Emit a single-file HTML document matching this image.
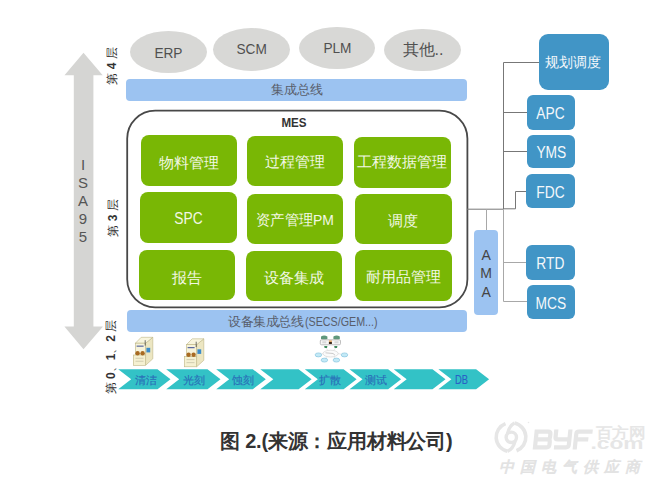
<!DOCTYPE html>
<html><head><meta charset="utf-8">
<style>
html,body{margin:0;padding:0;background:#fff;}
body{width:655px;height:483px;overflow:hidden;position:relative;font-family:"Liberation Sans",sans-serif;}
.a{position:absolute;}
.ell{position:absolute;background:#d8d8d6;border-radius:50%;color:#505050;font-size:14.5px;display:flex;align-items:center;justify-content:center;}
.g{position:absolute;background:#79b705;border-radius:8px;color:#f2f7e4;font-size:14.7px;display:flex;align-items:center;justify-content:center;}
.b{position:absolute;background:#4195c6;border-radius:6px;color:#f4f8fb;font-size:16px;display:flex;align-items:center;justify-content:center;}
.bar{position:absolute;background:#9cc3f1;border-radius:4px;color:#555;font-size:13px;display:flex;align-items:center;justify-content:center;}
.rot{position:absolute;transform:rotate(-90deg);transform-origin:center center;white-space:nowrap;color:#333;font-size:12px;line-height:12px;text-align:center;}
.chev{position:absolute;color:#2a6db8;font-family:"Liberation Serif",serif;font-size:11px;line-height:11px;font-weight:normal;-webkit-text-stroke:0.15px #2a6db8;}
.g span,.b span{position:relative;}
.b span{display:inline-block;transform:scaleX(0.86);}
</style></head><body>

<svg class="a" style="left:0;top:0" width="655" height="483">
  <!-- double arrow -->
  <polygon points="83.5,52.7 102.7,75.2 93.4,75.2 93.4,326.5 103,326.5 83.5,349.2 64.4,326.5 73.8,326.5 73.8,75.2 64.5,75.2" fill="#d5d5d3"/>
  <!-- MES container -->
  <rect x="127.2" y="110.6" width="340.2" height="196.7" rx="28" ry="28" fill="#fff" stroke="#484848" stroke-width="1.8"/>
  <!-- connectors -->
  <g stroke="#777" stroke-width="1" fill="none">
    <path d="M503.5 62.5 V209.2"/>
    <path d="M503.5 62.5 H539"/>
    <path d="M503.5 112.5 H527"/>
    <path d="M503.5 151.5 H527"/>
    <path d="M526 191.5 H515.5 V208.8 H503.5"/>
    <path d="M467 209.2 H503.5"/>
  </g>
  <g stroke="#a8a8a8" stroke-width="1" fill="none">
    <path d="M486.5 209.2 V230"/>
    <path d="M503.5 209.2 V301.5"/>
    <path d="M503.5 262.5 H526"/>
    <path d="M503.5 301.5 H527"/>
  </g>
  <!-- chevrons -->
  <g fill="#33c2c6">
    <polygon points="118.2,369.2 157.5,369.2 170.5,379.2 157.5,389.2 118.2,389.2 131.2,379.2"/>
    <polygon points="166.2,369.2 207.5,369.2 220.5,379.2 207.5,389.2 166.2,389.2 179.2,379.2"/>
    <polygon points="216.2,369.2 252.8,369.2 265.8,379.2 252.8,389.2 216.2,389.2 229.2,379.2"/>
    <polygon points="260.3,369.2 298.6,369.2 311.6,379.2 298.6,389.2 260.3,389.2 273.3,379.2"/>
    <polygon points="304.8,369.2 343.6,369.2 356.6,379.2 343.6,389.2 304.8,389.2 317.8,379.2"/>
    <polygon points="349.5,369.2 388.1,369.2 401.1,379.2 388.1,389.2 349.5,389.2 362.5,379.2"/>
    <polygon points="393.7,369.2 432.5,369.2 445.5,379.2 432.5,389.2 393.7,389.2 406.7,379.2"/>
    <polygon points="438.4,369.2 476.1,369.2 489.1,379.2 476.1,389.2 438.4,389.2 451.4,379.2"/>
  </g>

  <!-- equipment icons -->
  <defs>
    <g id="eq">
      <polygon points="11.6,6.2 18.8,0.3 18.8,21.8 11.6,28.3" fill="#ece6c2" stroke="#bdb584" stroke-width="0.6"/>
      <polygon points="1.4,6.2 11.6,6.2 18.8,0.3 7.2,0.3" fill="#f8f5de" stroke="#bdb584" stroke-width="0.6"/>
      <rect x="1.4" y="6.2" width="10.2" height="12" fill="#f7f3da" stroke="#bdb584" stroke-width="0.6"/>
      <rect x="-0.6" y="18" width="12.2" height="10.3" fill="#f5f1d2" stroke="#bdb584" stroke-width="0.6"/>
      <line x1="11.2" y1="3.2" x2="11.2" y2="8.6" stroke="#333" stroke-width="0.7"/>
      <rect x="2.6" y="8.6" width="7" height="1.1" fill="#4a5a9a"/>
      <circle cx="3.6" cy="16.2" r="2.2" fill="#a86a22"/>
      <circle cx="8.6" cy="16.2" r="2.2" fill="#a86a22"/>
      <rect x="12.4" y="10.8" width="3.8" height="4.6" fill="#3b8bc9"/>
      <rect x="1.5" y="20.8" width="8" height="0.8" fill="#c8c4a8"/>
      <rect x="1.5" y="23.8" width="8" height="0.8" fill="#c8c4a8"/>
    </g>
  </defs>
  <use href="#eq" x="134" y="337"/>
  <use href="#eq" x="185" y="338.5"/>
  <!-- network icon -->
  <g>
    <path d="M321 339 V336.5 Q324.2 334.6 327.4 336.5 V339 Q324.2 340.2 321 339Z" fill="#5f977c"/>
    <path d="M333.4 339 V336.5 Q336.6 334.6 339.8 336.5 V339 Q336.6 340.2 333.4 339Z" fill="#5f977c"/>
    <rect x="320.3" y="339.8" width="20.2" height="5" rx="1.2" fill="#f6f6f6" stroke="#a5a5a5" stroke-width="0.7"/>
    <rect x="322.3" y="341.3" width="4" height="2" fill="#d8d8d8"/>
    <rect x="334.5" y="341.3" width="4" height="2" fill="#d8d8d8"/>
    <rect x="328.9" y="340.4" width="3" height="1.6" fill="#e2a868"/>
    <rect x="328.9" y="342" width="3" height="2" fill="#3a2a1a"/>
    <path d="M324.2 346 h3.2 l-0.4 2 h-2.4z M334.2 346 h3.2 l-0.4 2 h-2.4z" fill="#3f8a5e"/>
    <ellipse cx="330.6" cy="353.6" rx="7.6" ry="3.4" fill="#fbfbfb" stroke="#cfcfcf" stroke-width="0.6"/>
    <path d="M325.5 352.8 L333 353.5 L335 355.2" stroke="#aaa" stroke-width="0.6" fill="none"/>
    <path d="M318.5 354.9 L323 353.6 M344.5 354.9 L338.2 353.6 M324.4 360 L327 356.5 M336.4 360 L334 356.5 M326 348 L328 350.5 M335.6 348 L333.5 350.5" stroke="#d0d0d0" stroke-width="0.5"/>
    <g fill="#c3e9f6" stroke="#7dbfdc" stroke-width="0.6">
      <ellipse cx="318.4" cy="354.9" rx="3.3" ry="2"/>
      <ellipse cx="344.5" cy="354.9" rx="3.3" ry="2"/>
      <ellipse cx="324.4" cy="360.1" rx="3.3" ry="2"/>
      <ellipse cx="336.4" cy="360.1" rx="3.3" ry="2"/>
    </g>
  </g>
  <!-- watermark -->
  <g fill="none" stroke="#e6e6e6" stroke-linecap="butt">
    <path d="M505.5 423.6 A14.5 14.5 0 0 0 507.5 451.3" stroke-width="3.6"/>
    <path d="M516.5 450.8 A14.5 14.5 0 0 0 514.5 423.1" stroke-width="3.6"/>
    <circle cx="511.3" cy="437.3" r="5.2" stroke-width="3.4"/>
    <path d="M507.5 433.5 C508.5 429 511 425 514.5 423.1" stroke-width="3.4"/>
    <path d="M515.1 441.1 C514 445.6 511.5 449.5 507.5 451.3" stroke-width="3.4"/>
    <circle cx="528.5" cy="422.5" r="0.8" fill="#eaeaea" stroke="none"/>
    <g stroke-width="4.2" transform="translate(0,0) skewX(-6) translate(46,0)">
      <path d="M536 431.7 H547.5 Q550 431.7 550 434.2 V437 Q550 439.4 547.5 439.4 H536 M536 439.4 H547.8 Q550.2 439.4 550.2 441.8 V444.8 Q550.2 447.3 547.8 447.3 H536 M536 429.6 V449.4"/>
      <path d="M555.5 429.6 V436.9 Q555.5 439.4 558 439.4 H569.6 M569.6 429.6 V444.8 Q569.6 447.3 567.1 447.3 H555"/>
      <path d="M592 431.7 H578 Q575.9 431.7 575.9 433.8 V449.4 M575.9 439.4 H588.5"/>
    </g>
  </g>
  <g>
    <text x="595.5" y="437.8" font-family="Liberation Sans" font-weight="bold" font-size="14.5" textLength="50" lengthAdjust="spacingAndGlyphs" fill="#e6e6e6">百方网</text>
    <text x="590.5" y="449.4" font-family="Liberation Sans" font-size="16" font-weight="bold" textLength="53" lengthAdjust="spacingAndGlyphs" fill="#e6e6e6">.com</text>
    <text x="499" y="471.5" font-family="Liberation Serif" font-style="italic" font-size="15" textLength="141" lengthAdjust="spacing" fill="#e2e2e2" stroke="#e2e2e2" stroke-width="0.7">中国电气供应商</text>
  </g>
</svg>

<!-- ISA95 -->
<div class="a" style="left:76px;top:156px;width:14px;color:#555;font-size:15px;line-height:18.1px;text-align:center;">I<br>S<br>A<br>9<br>5</div>

<!-- rotated labels -->
<div class="rot" style="left:91.8px;top:60px;width:40px;">第 <b>4</b> 层</div>
<div class="rot" style="left:92.5px;top:212px;width:40px;">第 <b>3</b> 层</div>
<div class="rot" style="left:71.3px;top:351px;width:80px;">第 <b>0</b>、<b>1</b>、<b>2</b> 层</div>

<!-- ellipses -->
<div class="ell" style="left:130.4px;top:31px;width:77px;height:42px;"><span style="display:inline-block;transform:scaleX(0.91);font-size:15px;position:relative;top:0.3px">ERP</span></div>
<div class="ell" style="left:213.4px;top:27.7px;width:76.4px;height:43px;"><span style="display:inline-block;transform:scaleX(0.91);font-size:15px;position:relative;top:-0.5px">SCM</span></div>
<div class="ell" style="left:299px;top:26.6px;width:76.3px;height:42.8px;"><span style="display:inline-block;transform:scaleX(0.91);font-size:15px;position:relative;top:-0.5px">PLM</span></div>
<div class="ell" style="left:383.8px;top:28.7px;width:77px;height:42.8px;font-size:16px;"><span style="position:relative;left:0.7px;top:0.3px">其他..</span></div>

<!-- bars -->
<div class="bar" style="left:126.4px;top:79px;width:340.6px;height:22px;"></div>
<div class="a" style="left:270.5px;top:83px;font-family:'Liberation Serif',serif;font-size:12.6px;line-height:14px;color:#585d6a;white-space:nowrap;">集成总线</div>
<div class="bar" style="left:126.8px;top:310.4px;width:340.6px;height:21.2px;"></div>
<div class="a" style="left:228px;top:315px;font-size:13px;line-height:14px;color:#585d6a;white-space:nowrap;letter-spacing:-0.4px;">设备集成总线</div>
<div class="a" style="left:305px;top:315px;font-size:12.6px;line-height:14px;color:#585d6a;white-space:nowrap;transform:scaleX(0.85);transform-origin:left center;">(SECS/GEM...)</div>

<!-- MES label -->
<div class="a" style="left:270px;top:114.5px;width:48px;text-align:center;font-weight:bold;font-size:13.2px;color:#333;transform:scaleX(0.88);">MES</div>

<!-- green boxes -->
<div class="g" style="left:141px;top:135px;width:96px;height:50.5px;"><span style="top:3.2px">物料管理</span></div>
<div class="g" style="left:247px;top:136px;width:96px;height:50.2px;"><span style="top:1.7px">过程管理</span></div>
<div class="g" style="left:354px;top:137px;width:96.6px;height:50.5px;"><span style="top:0.5px">工程数据管理</span></div>
<div class="g" style="left:140.4px;top:192px;width:96.6px;height:50.5px;font-size:16px;"><span style="top:1.8px;display:inline-block;transform:scaleX(0.86)">SPC</span></div>
<div class="g" style="left:247px;top:194.3px;width:96px;height:50.2px;"><span style="top:1.5px;display:inline-block;transform:scaleX(0.95)">资产管理PM</span></div>
<div class="g" style="left:354.8px;top:193.9px;width:96.9px;height:50.3px;"><span style="top:2.1px">调度</span></div>
<div class="g" style="left:139px;top:249.7px;width:96px;height:50.5px;"><span style="top:3.5px">报告</span></div>
<div class="g" style="left:245.7px;top:251px;width:96.6px;height:50px;"><span style="top:2.0px">设备集成</span></div>
<div class="g" style="left:355.3px;top:250.4px;width:96.4px;height:50.4px;"><span style="top:1.7px">耐用品管理</span></div>

<!-- AMA -->
<div class="a" style="left:474.2px;top:229.9px;width:23.8px;height:85px;background:#9cc3f1;border-radius:4px;color:#444;font-size:14px;line-height:18.6px;text-align:center;padding-top:16px;box-sizing:border-box;">A<br>M<br>A</div>

<!-- blue boxes -->
<div class="b" style="left:539px;top:33.7px;width:70px;height:56px;border-radius:9px;font-size:13.5px;"><span style="top:1px;left:-1px;transform:none">规划调度</span></div>
<div class="b" style="left:526.6px;top:94.7px;width:48.2px;height:35px;"><span style="top:1.5px">APC</span></div>
<div class="b" style="left:526.6px;top:134.9px;width:48.5px;height:33.5px;"><span style="top:1.5px">YMS</span></div>
<div class="b" style="left:526px;top:173.9px;width:48.8px;height:34.3px;"><span style="top:1.5px">FDC</span></div>
<div class="b" style="left:526px;top:245.3px;width:48.8px;height:34.3px;"><span style="top:1.5px">RTD</span></div>
<div class="b" style="left:526.6px;top:284.6px;width:48.5px;height:34.3px;"><span style="top:1.8px">MCS</span></div>

<!-- chevron labels -->
<div class="chev" style="left:134.5px;top:375px;">清洁</div>
<div class="chev" style="left:183px;top:375px;">光刻</div>
<div class="chev" style="left:232px;top:375px;">蚀刻</div>
<div class="chev" style="left:319px;top:375px;">扩散</div>
<div class="chev" style="left:364.5px;top:375px;">测试</div>
<div class="chev" style="left:454.6px;top:374.8px;font-family:'Liberation Sans',sans-serif;font-size:12px;transform:scaleX(0.78);transform-origin:left center;color:#2a5fc8;">DB</div>

<!-- caption -->
<div class="a" style="left:220px;top:428px;font-size:20px;font-weight:bold;color:#333;white-space:nowrap;letter-spacing:-0.2px;">图 2.(来源：应用材料公司)</div>

</body></html>
